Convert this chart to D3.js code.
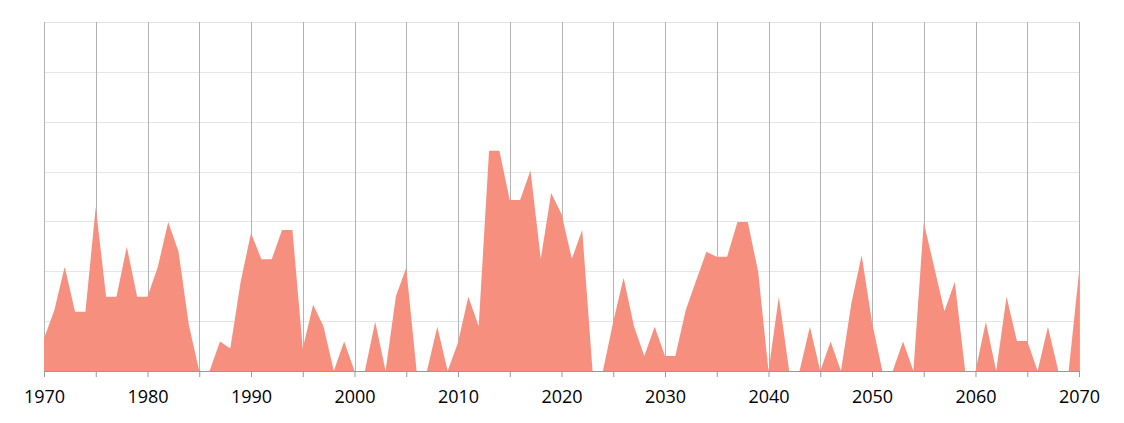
<!DOCTYPE html>
<html lang="en">
<head>
<meta charset="utf-8">
<script src="https://d3js.org/d3.v7.min.js"></script>
<style>
  body { margin: 0; background: #fff; }
  svg text { font-family: "Open Sans", sans-serif; }
</style>
</head>
<body>
<div id="chart"></div>
<script>
// yearly values, 1970..2070
var years = d3.range(1970, 2071);
var values = [
  6.5, 12.2, 20.9, 11.9, 11.9, 32.9, 14.9, 14.9, 24.9, 14.9,   // 1970s
  14.9, 20.9, 29.9, 23.9, 9.2, 0, 0, 5.9, 4.5, 17.9,          // 1980s
  27.7, 22.4, 22.4, 28.3, 28.3, 4.5, 13.3, 9, 0, 5.9,         // 1990s
  0, 0, 9.9, 0, 15, 20.7, 0, 0, 8.9, 0,                       // 2000s
  5.7, 14.9, 9, 44.2, 44.2, 34.3, 34.3, 40.2, 22.5, 35.7,     // 2010s
  31.5, 22.5, 28.3, 0, 0, 9.9, 18.7, 9, 3, 8.9,               // 2020s
  3, 3, 12.2, 18.1, 23.9, 22.9, 22.9, 29.9, 29.9, 19.9,       // 2030s
  0, 14.9, 0, 0, 8.9, 0, 5.9, 0, 13.5, 23.2,                  // 2040s
  9.8, 0, 0, 5.9, 0, 29.8, 20.9, 12, 17.9, 0,                 // 2050s
  0, 9.9, 0, 14.9, 6, 6, 0, 8.9, 0, 0,                        // 2060s
  19.7                                                        // 2070
];
var data = years.map(function(y, i) { return {year: y, value: values[i]}; });

var margin = {top: 22, right: 45, bottom: 52, left: 44},
    width = 1124 - margin.left - margin.right,
    height = 423 - margin.top - margin.bottom;

var svg = d3.select("#chart").append("svg")
    .attr("width", 1124)
    .attr("height", 423)
  .append("g")
    .attr("transform", "translate(" + margin.left + "," + margin.top + ")");

var x = d3.scaleLinear().domain([1970, 2070]).range([0, width]);
var y = d3.scaleLinear().domain([0, 70]).range([height, 0]);

// horizontal grid
svg.append("g")
  .selectAll("line")
  .data(d3.range(10, 71, 10))
  .enter().append("line")
    .attr("x1", 0).attr("x2", width)
    .attr("y1", function(d) { return Math.round(y(d)) + 0.5; })
    .attr("y2", function(d) { return Math.round(y(d)) + 0.5; })
    .attr("stroke", "#e6e6e6");

// vertical grid
svg.append("g")
  .selectAll("line")
  .data(d3.range(1970, 2071, 5))
  .enter().append("line")
    .attr("x1", function(d) { return Math.round(x(d)) + 0.5; })
    .attr("x2", function(d) { return Math.round(x(d)) + 0.5; })
    .attr("y1", 0).attr("y2", height)
    .attr("stroke", "#b3b3b3");

// area
var area = d3.area()
    .x(function(d) { return x(d.year); })
    .y0(y(0))
    .y1(function(d) { return y(d.value); });

svg.append("path")
    .datum(data)
    .attr("fill", "#f78f7f")
    .attr("d", area);

// x axis
var xAxis = svg.append("g")
    .attr("transform", "translate(0," + height + ")")
    .call(d3.axisBottom(x)
      .tickValues(d3.range(1970, 2071, 5))
      .tickSize(6)
      .tickSizeOuter(0)
      .tickFormat(function(d) { return d % 10 === 0 ? d : ""; }));

xAxis.select(".domain").attr("stroke", "#999");
xAxis.selectAll(".tick line").attr("stroke", "#999");
xAxis.selectAll(".tick text")
    .attr("fill", "#000")
    .attr("font-size", "18px")
    .attr("dy", "0")
    .attr("y", 32);
</script>
</body>
</html>
